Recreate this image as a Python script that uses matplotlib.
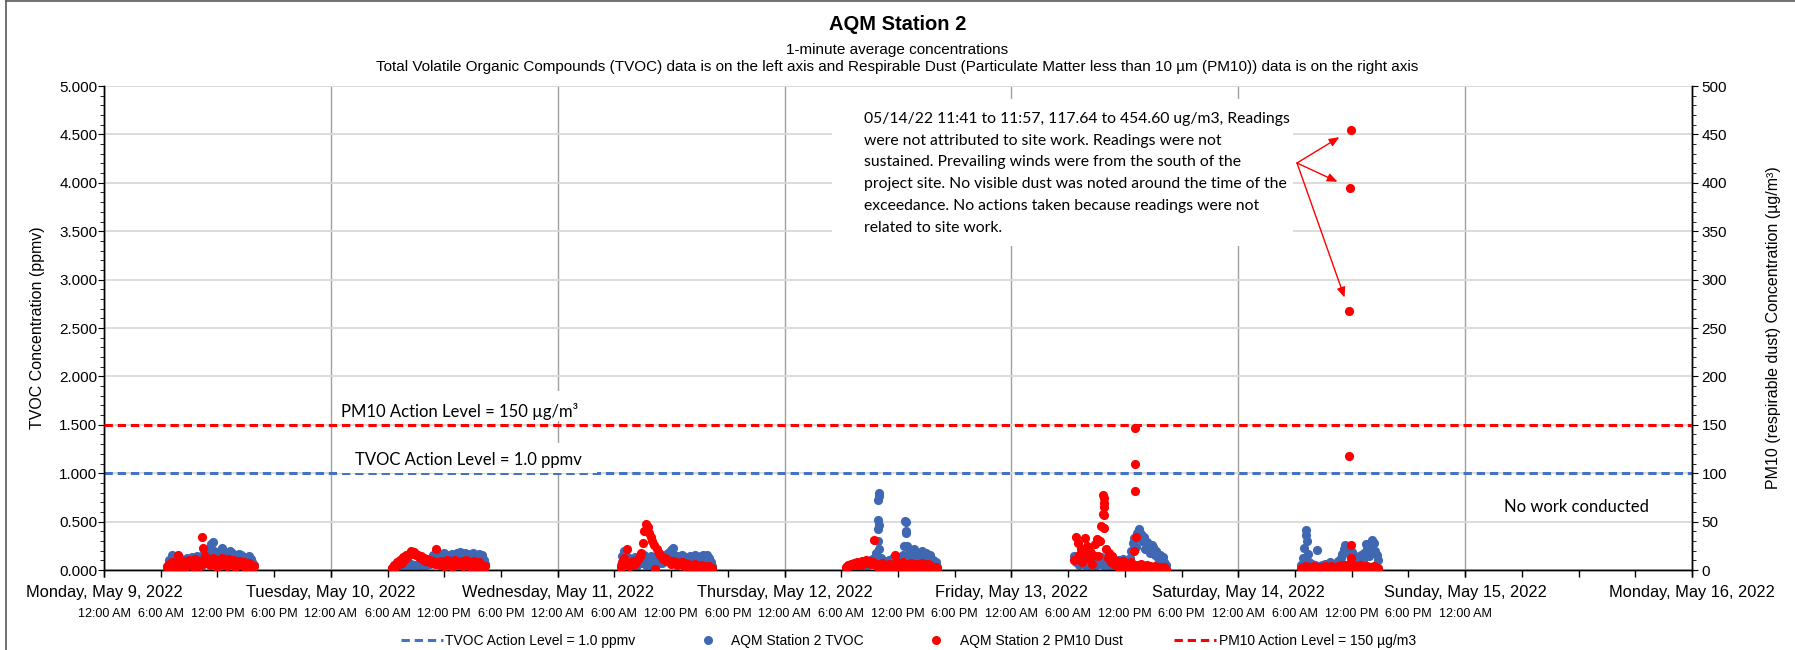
import matplotlib
matplotlib.use('Agg')
import matplotlib.pyplot as plt
import matplotlib.dates as mdates
import matplotlib.ticker as mticker
from matplotlib.lines import Line2D
from matplotlib.patches import Rectangle
import pandas as pd
from datetime import datetime

plt.rcParams['font.family'] = ['Liberation Sans', 'DejaVu Sans']
plt.rcParams['lines.scale_dashes'] = False

# ---------------- data (10-minute readings per work day) ----------------
DAY_STARTS = ['2022-05-09 06:40', '2022-05-10 06:30', '2022-05-11 06:40',
              '2022-05-12 06:30', '2022-05-13 06:40', '2022-05-14 06:40']

TVOC_MAY09 = [0.04,0.10,0.08,0.15,0.05,0.12,0.03,0.09,0.06,0.11,
              0.04,0.10,0.07,0.12,0.05,0.09,0.13,0.06,0.10,0.14,
              0.08,0.12,0.05,0.15,0.10,0.18,0.12,0.22,0.27,0.29,
              0.20,0.14,0.08,0.16,0.21,0.23,0.19,0.12,0.06,0.15,
              0.20,0.18,0.11,0.16,0.09,0.14,0.17,0.16,0.10,0.13,
              0.07,0.12,0.14,0.11,0.08,0.05]
PM10_MAY09 = [3,6,2,8,4,7,3,15,5,8, 2,9,6,4,10,5,8,3,11,6,
              9,4,34,23,14,7,10,5,9,12, 6,8,3,10,7,12,5,9,4,11,
              8,6,10,3,8,5,9,7,4,8, 6,3,7,5,2,4]

TVOC_MAY10 = [0.02,0.04,0.01,0.03,0.05,0.02,0.04,0.06,0.03,0.05,
              0.07,0.04,0.06,0.03,0.05,0.02,0.04,0.06,0.03,0.05,
              0.08,0.04,0.07,0.10,0.06,0.12,0.15,0.09,0.16,0.12,
              0.17,0.08,0.14,0.18,0.11,0.16,0.06,0.13,0.17,0.10,
              0.15,0.18,0.12,0.19,0.09,0.16,0.18,0.13,0.17,0.07,
              0.15,0.18,0.12,0.16,0.09,0.17,0.13,0.15,0.10,0.06]
PM10_MAY10 = [2,5,3,8,6,10,7,13,11,16, 14,18,20,17,19,15,16,13,14,11,
              12,9,11,8,10,7,9,6,22,8, 5,9,7,4,8,10,6,9,3,7,
              10,5,8,6,9,4,7,10,5,8, 3,7,9,4,6,8,3,5,2,4]

TVOC_MAY11 = [0.05,0.14,0.20,0.17,0.08,0.12,0.04,0.10,0.06,0.13,
              0.03,0.09,0.14,0.07,0.11,0.15,0.05,0.12,0.08,0.14,
              0.04,0.10,0.13,0.06,0.11,0.15,0.07,0.12,0.16,0.09,
              0.18,0.13,0.21,0.23,0.15,0.10,0.14,0.06,0.12,0.15,
              0.08,0.13,0.05,0.11,0.14,0.07,0.12,0.15,0.09,0.13,
              0.05,0.14,0.16,0.10,0.13,0.15,0.12,0.08,0.04]
PM10_MAY11 = [3,8,12,6,22,4,7,5,9,6, 8,11,14,18,28,40,48,44,38,34,
              30,26,1,22,18,15,13,11,12,9, 10,8,6,9,7,8,5,7,6,8,
              4,7,5,6,3,5,4,6,2,4, 3,5,2,4,3,2,4,1,2]

TVOC_MAY12 = [0.02,0.04,0.03,0.05,0.02,0.06,0.04,0.07,0.03,0.05,
              0.08,0.04,0.06,0.09,0.05,0.07,0.10,0.06,0.12,0.18,
              0.30,0.22,0.12,0.06,0.09,0.04,0.07,0.10,0.05,0.08,
              0.12,0.06,0.09,0.13,0.07,0.10,0.15,0.25,0.38,0.25,
              0.18,0.12,0.20,0.22,0.14,0.09,0.16,0.11,0.20,0.13,
              0.08,0.18,0.12,0.15,0.07,0.10,0.05,0.08,0.03]
PM10_MAY12 = [3,5,4,6,5,7,6,8,5,7, 9,6,8,10,7,9,6,8,31,5,
              3,6,4,7,2,5,3,6,4,2, 5,16,8,4,6,3,8,5,2,6,
              4,7,3,5,2,6,4,3,7,2, 5,3,6,2,4,3,1,3,2]

TVOC_MAY13 = [0.14,0.08,0.12,0.05,0.10,0.14,0.06,0.11,0.03,0.09,
              0.13,0.07,0.10,0.04,0.12,0.06,0.09,0.13,0.05,0.10,
              0.07,0.12,0.04,0.08,0.11,0.05,0.09,0.06,0.10,0.04,
              0.08,0.11,0.06,0.09,0.05,0.12,0.20,0.28,0.33,0.24,
              0.38,0.42,0.37,0.30,0.34,0.22,0.29,0.25,0.18,0.26,
              0.24,0.15,0.20,0.12,0.16,0.10,0.13,0.08,0.05]
PM10_MAY13 = [10,34,28,15,22,8,18,33,25,12, 20,6,16,27,32,14,30,45,58,69,
              22,12,18,8,14,6,10,4,8,3, 6,9,4,7,3,5,8,3,20,34,
              5,3,6,2,4,3,5,2,4,3, 2,4,3,2,3,1,2,3,1]

TVOC_MAY14 = [0.05,0.12,0.23,0.36,0.17,0.08,0.04,0.06,0.03,0.05,
              0.21,0.04,0.02,0.05,0.03,0.06,0.02,0.04,0.08,0.03,
              0.05,0.02,0.06,0.09,0.05,0.12,0.17,0.22,0.26,0.20,
              0.24,0.15,0.19,0.10,0.14,0.08,0.12,0.06,0.15,0.10,
              0.18,0.27,0.22,0.14,0.25,0.31,0.28,0.20,0.15,0.10]
PM10_MAY14 = [2,3,1,4,2,3,1,2,4,2, 3,1,2,3,2,4,1,3,2,4,
              3,1,2,4,3,5,4,2,5,3, 6,4,3,5,2,4,3,5,2,4,
              3,2,4,1,3,2,4,3,1,2]

# individual 1-minute peak readings
TVOC_PEAK_TIMES = ['2022-05-12 09:54', '2022-05-12 09:55', '2022-05-12 09:56',
                   '2022-05-12 09:57', '2022-05-12 09:58', '2022-05-12 09:59',
                   '2022-05-12 12:47', '2022-05-12 12:48', '2022-05-12 12:52',
                   '2022-05-14 07:12', '2022-05-14 07:14']
TVOC_PEAK_VALUES = [0.42, 0.52, 0.72, 0.80, 0.76, 0.47, 0.51, 0.50, 0.40, 0.41, 0.30]
PM10_PEAK_TIMES = ['2022-05-13 09:44', '2022-05-13 09:45', '2022-05-13 09:46',
                   '2022-05-13 09:47', '2022-05-13 09:48', '2022-05-13 13:05',
                   '2022-05-13 13:06', '2022-05-13 13:07', '2022-05-14 11:41',
                   '2022-05-14 11:44', '2022-05-14 11:50', '2022-05-14 11:53',
                   '2022-05-14 11:55', '2022-05-14 11:57']
PM10_PEAK_VALUES = [77.6, 74, 65.5, 57, 43, 147, 109, 82, 117.64, 268, 395, 26, 12, 454.6]

TVOC_DAYS = [TVOC_MAY09, TVOC_MAY10, TVOC_MAY11, TVOC_MAY12, TVOC_MAY13, TVOC_MAY14]
PM10_DAYS = [PM10_MAY09, PM10_MAY10, PM10_MAY11, PM10_MAY12, PM10_MAY13, PM10_MAY14]

TVOC_ACTION = 1.0
PM10_ACTION = 150

TITLE = 'AQM Station 2'
SUB1 = '1-minute average concentrations'
SUB2 = ('Total Volatile Organic Compounds (TVOC) data is on the left axis and Respirable Dust '
        '(Particulate Matter less than 10 \u00b5m (PM10)) data is on the right axis')
NOTE = ('05/14/22 11:41 to 11:57, 117.64 to 454.60 ug/m3, Readings\n'
        'were not attributed to site work. Readings were not\n'
        'sustained. Prevailing winds were from the south of the\n'
        'project site. No visible dust was noted around the time of the\n'
        'exceedance. No actions taken because readings were not\n'
        'related to site work.')
ARROW_TARGETS = ['2022-05-14 11:57', '2022-05-14 11:50', '2022-05-14 11:44']
ARROW_VALUES = [454.6, 395, 268]

BLUE = '#4068B2'
BLUE_LINE = '#4472C4'
RED = '#FF0000'
NOTE_FONT = ['Lato', 'DejaVu Sans']
MS = 6.6

def times_for(start, n):
    return list(pd.date_range(start, periods=n, freq='10min').to_pydatetime())

# ---------------- figure ----------------
W, H = 1795, 650
L, R, T, B = 104, 1692, 86, 570
fig = plt.figure(figsize=(W / 100, H / 100), dpi=100)
ax = fig.add_axes([L / W, 1 - B / H, (R - L) / W, (B - T) / H])
ax2 = ax.twinx()

x0, x1 = datetime(2022, 5, 9), datetime(2022, 5, 16)
ax.set_xlim(x0, x1)
ax.set_ylim(0, 5)
ax2.set_ylim(0, 500)

for st, tv in zip(DAY_STARTS, TVOC_DAYS):
    ax.plot(times_for(st, len(tv)), tv, 'o', color=BLUE, ms=MS, mew=0, zorder=3)
ax.plot(list(pd.to_datetime(TVOC_PEAK_TIMES).to_pydatetime()), TVOC_PEAK_VALUES,
        'o', color=BLUE, ms=MS, mew=0, zorder=3)
for st, pm in zip(DAY_STARTS, PM10_DAYS):
    ax2.plot(times_for(st, len(pm)), pm, 'o', color=RED, ms=MS, mew=0, zorder=3)
ax2.plot(list(pd.to_datetime(PM10_PEAK_TIMES).to_pydatetime()), PM10_PEAK_VALUES,
         'o', color=RED, ms=MS, mew=0, zorder=3)

ax.axhline(TVOC_ACTION, color=BLUE_LINE, lw=2.2, dashes=(6, 3.5), zorder=2)
ax2.axhline(PM10_ACTION, color=RED, lw=2.2, dashes=(6, 3.5), zorder=4)

# grid
ax.grid(axis='x', which='major', color='#A0A0A0', lw=1)
ax.grid(axis='y', which='major', color='#D9D9D9', lw=1.3)
ax.set_axisbelow(True)

# x axis ticks
ax.xaxis.set_major_locator(mdates.DayLocator())
ax.xaxis.set_minor_locator(mdates.HourLocator(byhour=[0, 6, 12, 18]))
ax.xaxis.remove_overlapping_locs = False

def day_fmt(x, pos):
    d = mdates.num2date(x)
    return f"{d:%A}, {d:%B} {d.day}, {d.year}"

last_time_label = mdates.date2num(datetime(2022, 5, 15))

def time_fmt(x, pos):
    if x > last_time_label + 1e-6:
        return ''
    d = mdates.num2date(x)
    return d.strftime('%I:%M %p').lstrip('0')

ax.xaxis.set_major_formatter(mticker.FuncFormatter(day_fmt))
ax.xaxis.set_minor_formatter(mticker.FuncFormatter(time_fmt))
ax.tick_params(axis='x', which='major', length=5, width=1, direction='out',
               labelsize=11.8, pad=6)
ax.tick_params(axis='x', which='minor', length=5, width=1, direction='out',
               labelsize=9, pad=22.5)

ax.yaxis.set_major_locator(mticker.MultipleLocator(0.5))
ax.yaxis.set_minor_locator(mticker.MultipleLocator(0.1))
ax.yaxis.set_major_formatter(mticker.FormatStrFormatter('%.3f'))
ax.tick_params(axis='y', which='major', length=4, labelsize=11, pad=0.8)
ax.tick_params(axis='y', which='minor', length=3)
ax2.yaxis.set_major_locator(mticker.MultipleLocator(50))
ax2.yaxis.set_minor_locator(mticker.MultipleLocator(10))
ax2.tick_params(axis='y', which='major', length=4, labelsize=11, pad=3)
ax2.tick_params(axis='y', which='minor', length=3)

for a in (ax, ax2):
    a.spines['top'].set_visible(False)
    for s in ('left', 'right', 'bottom'):
        a.spines[s].set_color('black')
        a.spines[s].set_linewidth(1)

ax.set_ylabel('TVOC Concentration (ppmv)', fontsize=11.5)
ax.yaxis.set_label_coords((45 - L) / (R - L), 0.5)
ax2.set_ylabel('PM10 (respirable dust) Concentration (\u00b5g/m\u00b3)', fontsize=11.5)
ax2.yaxis.set_label_coords((1766 - L) / (R - L), 0.5)

# titles
fig.text(0.5, 1 - 25 / H, TITLE, ha='center', va='center', fontsize=14.5, fontweight='bold')
fig.text(0.5, 1 - 50 / H, SUB1, ha='center', va='center', fontsize=11)
fig.text(0.5, 1 - 67 / H, SUB2, ha='center', va='center', fontsize=11)

# label boxes for action levels (white backgrounds)
def px_rect(xl, xr, yt, yb):
    return Rectangle((xl / W, 1 - yb / H), (xr - xl) / W, (yb - yt) / H,
                     transform=fig.transFigure, facecolor='white', edgecolor='none')

tvoc_line_px = B - (B - T) * TVOC_ACTION / 5
fig.add_artist(px_rect(337, 597, 443, tvoc_line_px))
fig.add_artist(px_rect(337, 597, 391, 421))
fig.text(468 / W, 1 - 460 / H, 'TVOC Action Level = 1.0 ppmv', ha='center', va='center',
         fontsize=12, family=NOTE_FONT)
fig.text(460 / W, 1 - 411 / H, 'PM10 Action Level = 150 \u00b5g/m\u00b3', ha='center', va='center',
         fontsize=12, family=NOTE_FONT)

# annotation note
fig.add_artist(px_rect(832, 1293, 99, 246))
fig.text(864 / W, 1 - 112 / H, NOTE, ha='left', va='top', fontsize=11.3,
         family=NOTE_FONT, linespacing=1.7)
for t, v in zip(ARROW_TARGETS, ARROW_VALUES):
    ax2.annotate('', xy=(pd.Timestamp(t).to_pydatetime(), v), xycoords='data',
                 xytext=(1297, H - 163), textcoords='figure pixels',
                 arrowprops=dict(arrowstyle='-|>,head_length=0.6,head_width=0.25',
                                 color=RED, lw=1, shrinkA=0, shrinkB=10))

fig.text(1576 / W, 1 - 507 / H, 'No work conducted', ha='center', va='center',
         fontsize=12, family=NOTE_FONT)

# legend
handles = [Line2D([], [], color=BLUE_LINE, lw=2.2, dashes=(6, 3.5)),
           Line2D([], [], marker='o', ls='none', color=BLUE, ms=6.5, mew=0),
           Line2D([], [], marker='o', ls='none', color=RED, ms=6.5, mew=0),
           Line2D([], [], color=RED, lw=2.2, dashes=(6, 3.5))]
labels = ['TVOC Action Level = 1.0 ppmv', 'AQM Station 2 TVOC',
          'AQM Station 2 PM10 Dust', 'PM10 Action Level = 150 \u00b5g/m3']
fig.legend(handles, labels, loc='center', bbox_to_anchor=(0.506, 1 - 640.5 / H), ncol=4,
           frameon=False, fontsize=10, handlelength=3, handletextpad=0.2,
           columnspacing=3.7)

# chart area border
fig.add_artist(Line2D([6 / W, 6 / W], [0, 1 - 1 / H], transform=fig.transFigure,
                      color='#595959', lw=1.2))
fig.add_artist(Line2D([6 / W, 1], [1 - 1 / H, 1 - 1 / H], transform=fig.transFigure,
                      color='#595959', lw=1.2))

fig.savefig('out.png', dpi=100)
